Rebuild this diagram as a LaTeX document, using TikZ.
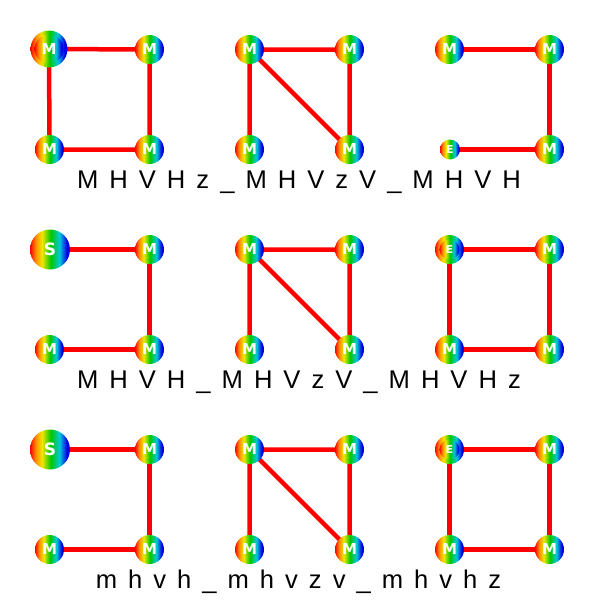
\documentclass[tikz,border=0pt]{standalone}
\usepackage{fontspec}
\setmainfont{Liberation Sans}
\newfontfamily\ballfont{DejaVu Sans}
\usetikzlibrary{backgrounds}
\definecolor{rbred}{RGB}{255,0,0}
\definecolor{rborange}{RGB}{255,140,0}
\definecolor{rbyellow}{RGB}{240,230,0}
\definecolor{rbgreen}{RGB}{0,200,0}
\definecolor{rbcyan}{RGB}{0,200,220}
\definecolor{rbblue}{RGB}{0,0,230}
\pgfdeclarehorizontalshading{rainbow}{100bp}{color(0bp)=(rbred); color(25bp)=(rbred); color(32bp)=(rborange); color(40bp)=(rbyellow); color(51bp)=(rbgreen); color(62bp)=(rbcyan); color(71bp)=(rbblue); color(100bp)=(rbblue)}
\tikzset{
  ball/.style={circle, inner sep=0pt, shade, shading=rainbow, text=white, minimum size=29pt, font=\ballfont\bfseries\fontsize{15}{15}\selectfont},
  ring/.style={circle, inner sep=0pt, shade, shading=rainbow, minimum size=#1},
  sball/.style={ball, minimum size=40pt, font=\ballfont\bfseries\fontsize{17}{17}\selectfont},
  eball/.style={ball, minimum size=20pt, font=\ballfont\bfseries\fontsize{11}{11}\selectfont},
  link/.style={draw=rbred, line width=4.5pt},
  code/.style={anchor=base, inner sep=0pt, font={\fontsize{25.6}{30}\selectfont\spaceskip=11pt\relax}},
}
\begin{document}
\begin{tikzpicture}[x=1pt,y=-1pt]
\useasboundingbox (0,0) rectangle (600,600);
% row 1
\node[ring=37pt] (a1) at (49,49) {};
\node[ball] (a1i) at (a1.center) {M};
\node[ball] (a2) at (149.5,49.5) {M};
\node[ball] (a3) at (49.5,149.5) {M};
\node[ball] (a4) at (149.5,149.5) {M};
\node[ball] (b1) at (249.5,49.5) {M};
\node[ball] (b2) at (349.5,49.5) {M};
\node[ball] (b3) at (249.5,149.5) {M};
\node[ball] (b4) at (349.5,149.5) {M};
\node[ball] (c1) at (449.5,49.5) {M};
\node[ball] (c2) at (549.5,49.5) {M};
\node[eball] (c3) at (450,149.5) {E};
\node[ball] (c4) at (549.5,149.5) {M};
\node[code] (t1) at (299,188.3) {M H V H z \_ M H V z V \_ M H V H};
% row 2
\node[sball] (d1) at (50,249.5) {S};
\node[ball] (d2) at (149.5,249.5) {M};
\node[ball] (d3) at (49.5,349.5) {M};
\node[ball] (d4) at (149.5,349.5) {M};
\node[ball] (e1) at (249.5,249.5) {M};
\node[ball] (e2) at (349.5,249.5) {M};
\node[ball] (e3) at (249.5,349.5) {M};
\node[ball] (e4) at (349.5,349.5) {M};
\node[ring=29pt] (f1) at (449.5,249.5) {};
\node[eball] (f1i) at (f1.center) {E};
\node[ball] (f2) at (549.5,249.5) {M};
\node[ball] (f3) at (449.5,349.5) {M};
\node[ball] (f4) at (549.5,349.5) {M};
\node[code] (t2) at (299,388.3) {M H V H \_ M H V z V \_ M H V H z};
% row 3
\node[sball] (g1) at (50,449.5) {S};
\node[ball] (g2) at (149.5,449.5) {M};
\node[ball] (g3) at (49.5,549.5) {M};
\node[ball] (g4) at (149.5,549.5) {M};
\node[ball] (h1) at (249.5,449.5) {M};
\node[ball] (h2) at (349.5,449.5) {M};
\node[ball] (h3) at (249.5,549.5) {M};
\node[ball] (h4) at (349.5,549.5) {M};
\node[ring=29pt] (i1) at (449.5,449.5) {};
\node[eball] (i1i) at (i1.center) {E};
\node[ball] (i2) at (549.5,449.5) {M};
\node[ball] (i3) at (449.5,549.5) {M};
\node[ball] (i4) at (549.5,549.5) {M};
\node[code] (t3) at (298.5,588.8) {m h v h \_ m h v z v \_ m h v h z};
\begin{scope}[on background layer]
\draw[link] (a1.center) -- (a2.center) -- (a4.center) -- (a3.center) -- (a1.center);
\draw[link] (b3.center) -- (b1.center) -- (b2.center) -- (b4.center) -- (b1.center);
\draw[link] (c1.center) -- (c2.center) -- (c4.center) -- (c3.center);
\draw[link] (d1.center) -- (d2.center) -- (d4.center) -- (d3.center);
\draw[link] (e3.center) -- (e1.center) -- (e2.center) -- (e4.center) -- (e1.center);
\draw[link] (f1.center) -- (f2.center) -- (f4.center) -- (f3.center) -- (f1.center);
\draw[link] (g1.center) -- (g2.center) -- (g4.center) -- (g3.center);
\draw[link] (h3.center) -- (h1.center) -- (h2.center) -- (h4.center) -- (h1.center);
\draw[link] (i1.center) -- (i2.center) -- (i4.center) -- (i3.center) -- (i1.center);
\end{scope}
\end{tikzpicture}
\end{document}
